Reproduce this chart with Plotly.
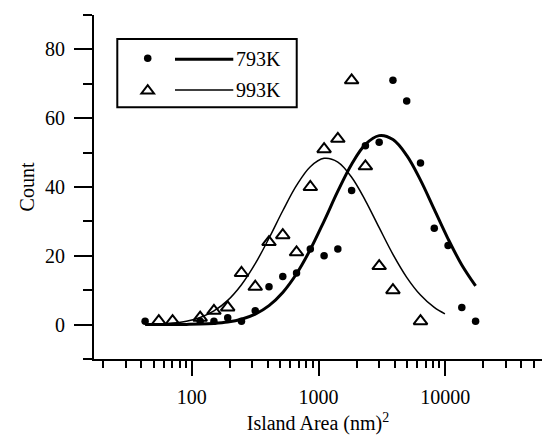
import plotly.graph_objects as go

# ---------------- data ----------------
AREA_793 = [42.8, 116.4, 149.5, 192.0, 246.6, 316.7, 406.7, 522.4, 670.9, 861.7, 1107,
            1421, 1826, 2345, 3012, 3868, 4968, 6383, 8197, 10530, 13520, 17370]
COUNT_793 = [1, 1, 1, 2, 1, 4, 11, 14, 15, 22, 20, 22, 39, 52, 53, 71, 65, 47, 28, 23, 5, 1]

AREA_993 = [54.9, 70.5, 116.4, 149.5, 192.0, 246.6, 316.7, 406.7, 522.4, 670.9, 861.7,
            1107, 1421, 1826, 2345, 3012, 3868, 6383]
COUNT_993 = [1, 1, 2, 4, 5, 15, 11, 24, 26, 21, 40, 51, 54, 71, 46, 17, 10, 1]

FIT_793_AREA = [42.8, 54.9, 70.5, 90.6, 116.4, 149.5, 192.0, 246.6, 316.7, 406.7, 522.4,
                670.9, 861.7, 1107, 1421, 1826, 2345, 3012, 3868, 4968, 6383, 8197,
                10530, 13520, 17370]
FIT_793_COUNT = [0.0, 0.01, 0.02, 0.06, 0.14, 0.34, 0.75, 1.57, 3.04, 5.52, 9.35, 14.78,
                 21.83, 30.11, 38.78, 46.64, 52.38, 54.93, 53.79, 49.19, 42.0, 33.49,
                 24.94, 17.34, 11.26]

FIT_993_AREA = [42.8, 54.9, 70.5, 90.6, 116.4, 149.5, 192.0, 246.6, 316.7, 406.7, 522.4,
                670.9, 861.7, 1107, 1421, 1826, 2345, 3012, 3868, 4968, 6383, 8197, 9950]
FIT_993_COUNT = [0.07, 0.19, 0.45, 1.0, 2.07, 3.96, 7.03, 11.58, 17.7, 25.12, 33.09, 40.45,
                 45.9, 48.33, 47.24, 42.84, 36.07, 28.18, 20.43, 13.75, 8.59, 4.98, 3.1]

X_MAJOR_TICKS = [100, 1000, 10000]
X_MAJOR_LABELS = ["100", "1000", "10000"]
X_MINOR_TICKS = [m * 10 ** e for e in (1, 2, 3, 4) for m in range(2, 10)
                 if 17 < m * 10 ** e < 58000 and m * 10 ** e not in X_MAJOR_TICKS]
Y_MAJOR_TICKS = [0, 20, 40, 60, 80]
Y_MINOR_TICKS = [-10, 10, 30, 50, 70, 90]

LEGEND_LABELS = ["793K", "993K"]
X_TITLE = "Island Area (nm)<sup>2</sup>"
Y_TITLE = "Count"

FONT = "Liberation Serif, Times New Roman, serif"
BLACK = "#000000"

fig = go.Figure()

fig.add_trace(go.Scatter(x=FIT_793_AREA, y=FIT_793_COUNT, mode="lines",
                         line=dict(color=BLACK, width=3, shape="spline", smoothing=1),
                         showlegend=False, hoverinfo="skip"))
fig.add_trace(go.Scatter(x=FIT_993_AREA, y=FIT_993_COUNT, mode="lines",
                         line=dict(color=BLACK, width=1.5, shape="spline", smoothing=1),
                         showlegend=False, hoverinfo="skip"))
fig.add_trace(go.Scatter(x=AREA_793, y=COUNT_793, mode="markers", name=LEGEND_LABELS[0],
                         marker=dict(symbol="circle", size=7.5, color=BLACK,
                                     line=dict(width=0)),
                         showlegend=False))
fig.add_trace(go.Scatter(x=AREA_993, y=COUNT_993, mode="markers", name=LEGEND_LABELS[1],
                         marker=dict(symbol="triangle-up-open", size=12, color=BLACK,
                                     line=dict(width=2, color=BLACK)),
                         showlegend=False))

# ---------------- manual legend (paper coordinates) ----------------
shapes = [
    dict(type="rect", xref="paper", yref="paper", x0=0.052, x1=0.4525, y0=0.7317, y1=0.9302,
         line=dict(color=BLACK, width=2), fillcolor="white", layer="below"),
    dict(type="line", xref="paper", yref="paper", x0=0.1808, x1=0.3109, y0=0.8712, y1=0.8712,
         line=dict(color=BLACK, width=3)),
    dict(type="line", xref="paper", yref="paper", x0=0.1808, x1=0.3109, y0=0.782, y1=0.782,
         line=dict(color=BLACK, width=1.5)),
    dict(type="circle", xref="paper", yref="paper", xsizemode="pixel", ysizemode="pixel",
         xanchor=0.1199, yanchor=0.874, x0=-3.75, x1=3.75, y0=-3.75, y1=3.75,
         fillcolor=BLACK, line=dict(width=0)),
    dict(type="path", xref="paper", yref="paper", xsizemode="pixel", ysizemode="pixel",
         xanchor=0.1199, yanchor=0.780, path="M -6.3,-2.8 L 6.3,-2.8 L 0,5.5 Z",
         fillcolor="rgba(0,0,0,0)", line=dict(color=BLACK, width=2)),
]
annotations = [
    dict(xref="paper", yref="paper", x=0.3114, y=0.872, xanchor="left", yanchor="middle",
         text=LEGEND_LABELS[0], showarrow=False, font=dict(family=FONT, size=20, color=BLACK)),
    dict(xref="paper", yref="paper", x=0.3114, y=0.782, xanchor="left", yanchor="middle",
         text=LEGEND_LABELS[1], showarrow=False, font=dict(family=FONT, size=20, color=BLACK)),
]

fig.update_layout(
    width=542, height=435,
    margin=dict(l=94, r=0, t=15, b=76),
    paper_bgcolor="white", plot_bgcolor="white",
    font=dict(family=FONT, size=20, color=BLACK),
    shapes=shapes, annotations=annotations,
    showlegend=False,
)

fig.update_xaxes(
    type="log", range=[1.228, 4.764], automargin=False,
    showline=True, linecolor=BLACK, linewidth=2, mirror=False,
    showgrid=False, zeroline=False,
    tickmode="array", tickvals=X_MAJOR_TICKS, ticktext=X_MAJOR_LABELS,
    ticks="outside", ticklen=15, tickwidth=2, tickcolor=BLACK,
    ticklabelstandoff=4,
    tickfont=dict(family=FONT, size=20, color=BLACK),
    minor=dict(tickmode="array", tickvals=X_MINOR_TICKS, ticks="outside", ticklen=7,
               tickwidth=2, tickcolor=BLACK, showgrid=False),
    title=dict(text=X_TITLE, font=dict(family=FONT, size=20, color=BLACK), standoff=12),
)
fig.update_yaxes(
    range=[-10, 90], automargin=False,
    showline=True, linecolor=BLACK, linewidth=2, mirror=False,
    showgrid=False, zeroline=False,
    tickmode="array", tickvals=Y_MAJOR_TICKS,
    ticks="outside", ticklen=18, tickwidth=2, tickcolor=BLACK,
    ticklabelstandoff=5,
    tickfont=dict(family=FONT, size=20, color=BLACK),
    minor=dict(tickmode="array", tickvals=Y_MINOR_TICKS, ticks="outside", ticklen=9,
               tickwidth=2, tickcolor=BLACK, showgrid=False),
    title=dict(text=Y_TITLE, font=dict(family=FONT, size=20, color=BLACK), standoff=5),
)

fig.write_html(
    "out.html",
    config={"displayModeBar": False},
    post_script="document.body.style.margin='0px';document.body.style.overflow='hidden';",
)
